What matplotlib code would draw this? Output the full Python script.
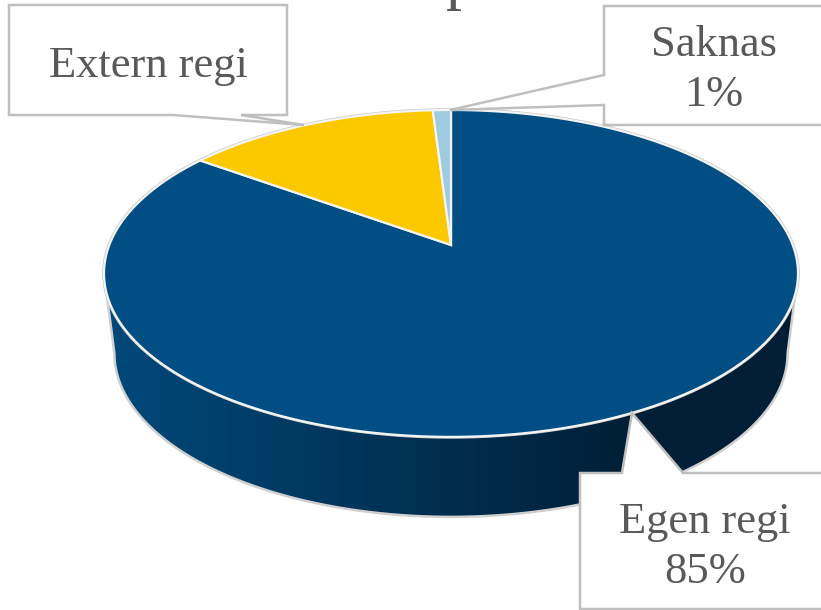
import numpy as np
import matplotlib
matplotlib.use('Agg')
import matplotlib.pyplot as plt
from matplotlib.colors import LinearSegmentedColormap
from matplotlib.patches import Polygon

labels = ['Egen regi', 'Extern regi', 'Saknas']
values = [85, 14, 1]
colors = ['#004e84', '#fcc900', '#9fcbdf']
label_text = ['Egen regi\n85%', 'Extern regi', 'Saknas\n1%']

cx, cy = 451, 245      # spetsen
A, B, k = 158.5, 341.7, 0.174
depth = 80
rim_scale = 0.97


def project(theta):
    s = np.sin(theta)
    c = np.cos(theta)
    return cx + B*s/(1 + k*c), cy - A*c/(1 + k*c)


fig = plt.figure(figsize=(8.21, 6.10), dpi=100)
ax = fig.add_axes([0, 0, 1, 1])
ax.set_xlim(0, 821)
ax.set_ylim(610, 0)
ax.axis('off')

# sidan med gradient
th = np.linspace(np.radians(100), np.radians(260), 240)
xt, yt = project(th)
xb = cx + rim_scale*(xt - cx)
yb = yt + depth
side = Polygon(np.r_[np.c_[xt, yt], np.c_[xb, yb][::-1]], closed=True,
               fc='none', ec='#cfcfcf', lw=1.8, zorder=3)
ax.add_patch(side)
cmap = LinearSegmentedColormap.from_list('side', [(0, '#00497b'), (0.77, '#001e35'), (1, '#001e35')])
im = ax.imshow(np.linspace(0, 1, 256).reshape(1, -1), cmap=cmap, extent=[103, 798, 610, 0],
               aspect='auto', zorder=2)
im.set_clip_path(side)
ax.set_xlim(0, 821)
ax.set_ylim(610, 0)

# toppen, medurs fran kl 12
xs, ys = project(np.linspace(0, 2*np.pi, 600))
ax.plot(xs, ys, color='#c8c8c8', lw=2.6, zorder=3)
start = 0
for v, col in zip(values, colors):
    a0 = np.radians(start*3.6)
    a1 = np.radians((start + v)*3.6)
    xs, ys = project(np.linspace(a0, a1, 300))
    ax.add_patch(Polygon(np.r_[[[cx, cy]], np.c_[xs, ys]], closed=True, fc=col, ec='#f4f4f4',
                         lw=1.6, joinstyle='miter', zorder=4))
    start += v

# etiketter
box = dict(fc='white', ec='#bfbfbf', lw=1.8, closed=True, joinstyle='miter', zorder=5)
ax.add_patch(Polygon([(9, 5), (287, 5), (287, 115), (241, 115), (304, 125), (173, 115), (9, 115)], **box))
ax.add_patch(Polygon([(604, 6), (830, 6), (830, 125), (604, 125), (604, 105), (450, 110), (604, 75)], **box))
ax.add_patch(Polygon([(580, 473), (622, 473), (632, 413), (683, 473), (830, 473), (830, 609), (580, 609)], **box))

font = ['Liberation Serif', 'DejaVu Serif']
ax.text(705, 547, label_text[0], ha='center', va='center', fontsize=32, color='#595959',
        family=font, linespacing=1.3, zorder=6)
ax.text(148, 66, label_text[1], ha='center', va='center', fontsize=32, color='#595959',
        family=font, zorder=6)
ax.text(714, 70, label_text[2], ha='center', va='center', fontsize=32, color='#595959',
        family=font, linespacing=1.3, zorder=6)
# titeln ar bortklippt, bara p syns
ax.text(462, -3, 'p', ha='center', va='baseline', fontsize=46, color='#595959', family=font, zorder=6)

fig.savefig('out.png', dpi=100)
